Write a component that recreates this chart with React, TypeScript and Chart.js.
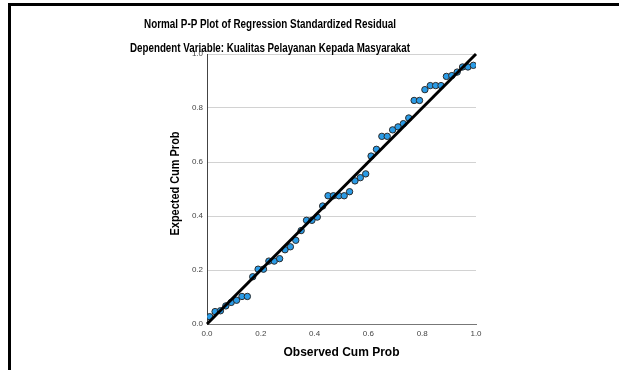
import React, { useEffect, useRef } from "react";
import { Chart, registerables } from "chart.js";

Chart.register(...registerables);

const titleLines = [
  "Normal P-P Plot of Regression Standardized Residual",
  "Dependent Variable: Kualitas Pelayanan Kepada Masyarakat",
];
const xAxisTitle = "Observed Cum Prob";
const yAxisTitle = "Expected Cum Prob";
const tickValues = [0, 0.2, 0.4, 0.6, 0.8, 1.0];

const observedCumProb = [
  0.01, 0.03, 0.05, 0.07, 0.09, 0.11, 0.13, 0.15, 0.17, 0.19,
  0.21, 0.23, 0.25, 0.27, 0.29, 0.31, 0.33, 0.35, 0.37, 0.39,
  0.41, 0.43, 0.45, 0.47, 0.49, 0.51, 0.53, 0.55, 0.57, 0.59,
  0.61, 0.63, 0.65, 0.67, 0.69, 0.71, 0.73, 0.75, 0.77, 0.79,
  0.81, 0.83, 0.85, 0.87, 0.89, 0.91, 0.93, 0.95, 0.97, 0.99,
];
const expectedCumProb = [
  0.027, 0.046, 0.049, 0.067, 0.080, 0.088, 0.102, 0.102, 0.175, 0.203,
  0.203, 0.233, 0.233, 0.242, 0.275, 0.286, 0.310, 0.346, 0.384, 0.384,
  0.396, 0.437, 0.475, 0.475, 0.475, 0.475, 0.490, 0.530, 0.542, 0.556,
  0.622, 0.647, 0.695, 0.695, 0.719, 0.730, 0.742, 0.763, 0.828, 0.828,
  0.868, 0.883, 0.883, 0.883, 0.917, 0.920, 0.933, 0.952, 0.952, 0.958,
];
const referenceLineX = [0, 1];
const referenceLineY = [0, 1];

const titleWidths = [252, 280];

const titlePlugin = {
  id: "spssTitles",
  afterDraw(chart: any) {
    const ctx = chart.ctx;
    ctx.save();
    ctx.fillStyle = "#000";
    ctx.textAlign = "center";
    ctx.textBaseline = "alphabetic";
    ctx.font = "bold 12px 'Liberation Sans', Arial, sans-serif";
    const ys = [28, 52];
    titleLines.forEach((t, i) => {
      const w = ctx.measureText(t).width;
      const sx = Math.min(1, titleWidths[i] / w);
      ctx.save();
      ctx.translate(270, ys[i]);
      ctx.scale(sx, 1);
      ctx.fillText(t, 0, 0);
      ctx.restore();
    });
    // y axis title
    ctx.font = "bold 12px 'Liberation Sans', Arial, sans-serif";
    const yw = ctx.measureText(yAxisTitle).width;
    ctx.save();
    ctx.translate(176, 183.5);
    ctx.rotate(-Math.PI / 2);
    ctx.scale(Math.min(1, 104 / yw), 1);
    ctx.textBaseline = "middle";
    ctx.fillText(yAxisTitle, 0, 0);
    ctx.restore();
    ctx.restore();
  },
};

export default function App() {
  const ref = useRef<HTMLCanvasElement | null>(null);
  useEffect(() => {
    if (!ref.current) return;
    const chart = new Chart(ref.current, {
      type: "scatter",
      data: {
        datasets: [
          {
            type: "line",
            data: referenceLineX.map((x, i) => ({ x, y: referenceLineY[i] })),
            borderColor: "#000",
            borderWidth: 3,
            pointRadius: 0,
            fill: false,
            clip: false as any,
            order: 0,
          } as any,
          {
            type: "scatter",
            data: observedCumProb.map((x, i) => ({ x, y: expectedCumProb[i] })),
            backgroundColor: "#2a9be6",
            borderColor: "#2b2b2b",
            borderWidth: 1,
            pointRadius: 3.2,
            order: 1,
          },
        ],
      },
      options: {
        responsive: false,
        animation: false,
        layout: { padding: { left: 166, right: 143, top: 54, bottom: 0 } },
        plugins: {
          legend: { display: false },
          tooltip: { enabled: false },
          title: { display: false },
        },
        scales: {
          x: {
            type: "linear",
            min: 0,
            max: 1,
            afterBuildTicks: (s: any) => {
              s.ticks = tickValues.map((v) => ({ value: v }));
            },
            afterFit: (s: any) => {
              s.height = 46;
            },
            ticks: {
              callback: (v: any) => Number(v).toFixed(1),
              font: { family: "'Liberation Sans', Arial, sans-serif", size: 8 },
              color: "#444",
              padding: 5,
              maxRotation: 0,
            },
            grid: { color: "rgba(0,0,0,0)", drawTicks: false, tickLength: 0 },
            border: { display: true, color: "#777", width: 1 },
            title: {
              display: true,
              text: xAxisTitle,
              color: "#000",
              font: { family: "'Liberation Sans', Arial, sans-serif", size: 12, weight: "bold", lineHeight: 1.2 },
              padding: { top: 4, bottom: 10 },
            },
          },
          y: {
            type: "linear",
            min: 0,
            max: 1,
            afterBuildTicks: (s: any) => {
              s.ticks = tickValues.map((v) => ({ value: v }));
            },
            afterFit: (s: any) => {
              s.width = 41;
            },
            ticks: {
              callback: (v: any) => Number(v).toFixed(1),
              font: { family: "'Liberation Sans', Arial, sans-serif", size: 8 },
              color: "#444",
              padding: 4,
            },
            grid: { color: "#d2d2d2", lineWidth: 1, drawTicks: false, tickLength: 0 },
            border: { display: true, color: "#444", width: 1 },
            title: { display: false },
          },
        },
      },
      plugins: [titlePlugin],
    });
    return () => chart.destroy();
  }, []);

  return (
    <div style={{ position: "fixed", left: 0, top: 0, width: 619, height: 370, background: "#fff" }}>
      <canvas ref={ref} width={619} height={370} style={{ position: "absolute", left: 0, top: 0 }} />
      <div
        style={{
          position: "absolute",
          left: 8,
          top: 3,
          width: 611,
          height: 367,
          borderTop: "3px solid #000",
          borderLeft: "3px solid #000",
          boxSizing: "border-box",
          pointerEvents: "none",
        }}
      />
    </div>
  );
}
